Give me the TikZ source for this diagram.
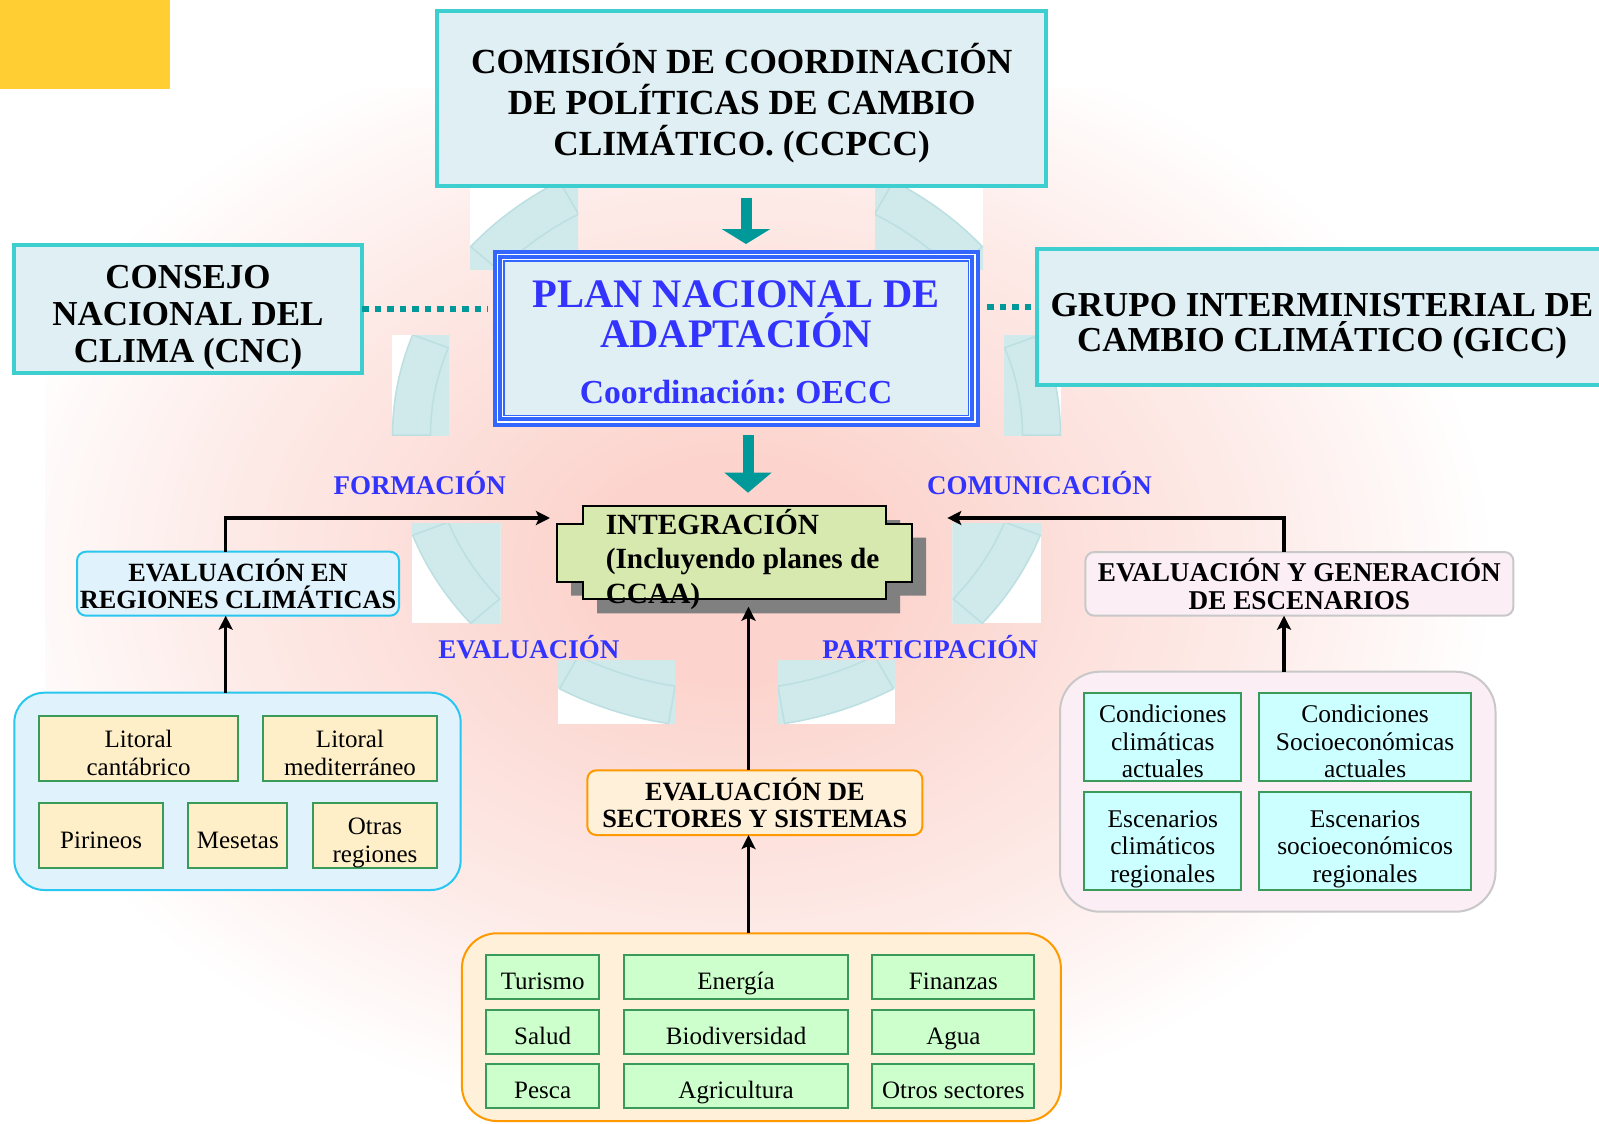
\documentclass[tikz,border=0pt]{standalone}
\usepackage{fontspec}
\setmainfont{Liberation Serif}
\usetikzlibrary{arrows.meta,calc}
\frenchspacing
\definecolor{cgold}{HTML}{FFCE33}
\definecolor{tealb}{HTML}{3DCFD0}
\definecolor{boxfill}{HTML}{E0EFF4}
\definecolor{tealar}{HTML}{009999}
\definecolor{pnablue}{HTML}{3366FF}
\definecolor{pnatext}{HTML}{3333FF}
\definecolor{intfill}{HTML}{D7E9AE}
\definecolor{shadowc}{HTML}{808080}
\definecolor{regb}{HTML}{29C7F0}
\definecolor{regf}{HTML}{E0F2FB}
\definecolor{cream}{HTML}{FEEFC8}
\definecolor{cellg}{HTML}{3A9A5A}
\definecolor{scenb}{HTML}{C8C8C8}
\definecolor{scenf}{HTML}{FBEEF4}
\definecolor{lcyan}{HTML}{CCFFFF}
\definecolor{orb}{HTML}{FF9900}
\definecolor{orf}{HTML}{FFF0DA}
\definecolor{lgreen}{HTML}{CCFFCC}
\definecolor{ringf}{HTML}{D0E9EB}
\definecolor{ringl}{HTML}{BCDFE2}
\definecolor{pinkc}{HTML}{FCD4CD}
\definecolor{pinkm}{HTML}{FDEBE8}
\pgfdeclareradialshading{bgpink}{\pgfpoint{0bp}{0bp}}{color(0bp)=(pinkc); color(5bp)=(pinkc); color(17bp)=(pinkm); color(25bp)=(white); color(50bp)=(white)}
\newcommand{\tstr}[1]{\rule{0pt}{#1}}
\begin{document}
\begin{tikzpicture}[x=1pt,y=-1pt,
  every node/.style={inner sep=0pt,outer sep=0pt},
  hbox/.style={draw=tealb,line width=4pt,fill=boxfill,align=center,text=black},
  pnabox/.style={fill=pnablue,text=pnatext,align=center,
    font=\bfseries\fontsize{40.5}{40}\selectfont,
    path picture={
      \fill[boxfill] ([shift={(12pt,-12pt)}]path picture bounding box.north west) rectangle ([shift={(-12pt,12pt)}]path picture bounding box.south east);
      \draw[white,line width=1.3pt] ([shift={(4.6pt,-4.6pt)}]path picture bounding box.north west) rectangle ([shift={(-4.6pt,4.6pt)}]path picture bounding box.south east);
      \draw[white,line width=1pt] ([shift={(9.8pt,-9.8pt)}]path picture bounding box.north west) rectangle ([shift={(-9.8pt,9.8pt)}]path picture bounding box.south east);
    }},
  rbox/.style={rounded corners=9pt,line width=2pt,align=center,font=\bfseries\fontsize{26.3}{27.6}\selectfont},
  cont/.style={line width=2pt},
  cell/.style={draw=cellg,line width=2pt,align=center,font=\fontsize{25}{28}\selectfont},
  scell/.style={cell,fill=lgreen,text height=27pt,text depth=2pt},
  ccell/.style={cell,fill=lcyan,font=\fontsize{25.5}{27.5}\selectfont},
  lbl/.style={text=pnatext,font=\bfseries\fontsize{27}{27}\selectfont,anchor=base west},
  conn/.style={line width=3.5pt,-{Stealth[length=14pt,width=14pt,inset=3pt]}},
  dotconn/.style={tealar,line width=6.5pt,dash pattern=on 6.5pt off 6pt},
  tealarrow/.style={tealar,line width=11pt},
  ringline/.style={ringl,line width=1.5pt}
]
\clip (0,0) rectangle (1599,1124);
% background
\begin{scope}
  \clip (45,89) rectangle (1599,1124);
  \shade[shading=bgpink] (-25,10) rectangle (1495,1130);
\end{scope}
\fill[cgold] (0,0) rectangle (170,89);
% decorative ring pieces
\foreach \xa/\ya/\xb/\yb/\ta/\tb in {470/188/578/269/220/240, 875/188/983/269/300/320, 391.7/335/449/435.7/180/200, 1004/335/1061.3/435.7/340/360, 411.7/523/500.7/623/140/160, 952.3/523/1041.3/623/20/40, 558/660/675/724/100/120, 778/660/895/724/60/80}{
  \begin{scope}
    \clip (\xa,\ya) rectangle (\xb,\yb);
    \fill[white] (\xa,\ya) rectangle (\xb,\yb);
    \fill[ringf] plot[domain=0:360,samples=90] ({726.5+334*cos(\x)},{435+293*sin(\x)}) -- cycle;
    \draw[ringline] plot[domain=\ta:\tb,samples=16] ({726.5+334*cos(\x)},{435+293*sin(\x)}) -- plot[domain=\tb:\ta,samples=16] ({726.5+296*cos(\x)},{435+255*sin(\x)}) -- cycle;
  \end{scope}
}
% top boxes
\node[hbox,font=\bfseries\fontsize{35.3}{41}\selectfont,minimum width=609.4pt,minimum height=174.7pt] (ccpcc) at (741.7,98.65) {\tstr{39pt}COMISIÓN DE COORDINACIÓN\\DE POLÍTICAS DE CAMBIO\\CLIMÁTICO. (CCPCC)};
\node[hbox,font=\bfseries\fontsize{35}{37}\selectfont,minimum width=348pt,minimum height=128pt] (cnc) at (188,309) {\tstr{40pt}CONSEJO\\NACIONAL DEL\\CLIMA (CNC)};
\node[hbox,font=\bfseries\fontsize{35}{35.7}\selectfont,minimum width=570pt,minimum height=135.7pt] (gicc) at (1322,316.85) {\tstr{42pt}GRUPO INTERMINISTERIAL DE\\CAMBIO CLIMÁTICO (GICC)};
\node[pnabox,minimum width=486.8pt,minimum height=176.7pt] (pna) at (736.1,338.35) {\tstr{35pt}PLAN NACIONAL DE\\ADAPTACIÓN\\[16pt]{\fontsize{33.6}{40}\selectfont Coordinación: OECC}};
% dotted links
\coordinate (giccdot) at ($(gicc.west)+(0,-10)$);
\draw[dotconn,shorten >=4.7pt] (cnc.east) -- (cnc.east -| pna.west);
\draw[dotconn,shorten <=7.5pt] (pna.east |- giccdot) -- (giccdot);
% integration plaque
\node[minimum width=354.9pt,minimum height=93.3pt] (integ) at (734.15,552.65) {};
\fill[shadowc,shift={($(integ.north west)+(14.5,14)$)}] (25.9,0) -- (329,0) -- (329,17.7) -- (354.9,17.7) -- (354.9,75.6) -- (329,75.6) -- (329,93.3) -- (25.9,93.3) -- (25.9,75.6) -- (0,75.6) -- (0,17.7) -- (25.9,17.7) -- cycle;
\draw[fill=intfill,line width=2pt,shift={(integ.north west)}] (25.9,0) -- (329,0) -- (329,17.7) -- (354.9,17.7) -- (354.9,75.6) -- (329,75.6) -- (329,93.3) -- (25.9,93.3) -- (25.9,75.6) -- (0,75.6) -- (0,17.7) -- (25.9,17.7) -- cycle;
\node[font=\bfseries\fontsize{29.3}{34.5}\selectfont,align=left,anchor=west] (integtxt) at (605.8,559.5) {INTEGRACIÓN\\(Incluyendo planes de\\CCAA)};
% labels
\node[lbl] (formacion) at (333.5,494.3) {FORMACIÓN};
\node[lbl] (comunicacion) at (927,494) {COMUNICACIÓN};
\node[lbl] (evaluacion) at (438.4,658.3) {EVALUACIÓN};
\node[lbl] (participacion) at (822.3,658) {PARTICIPACIÓN};
% left branch
\node[rbox,draw=regb,fill=regf,minimum width=322pt,minimum height=64pt] (regbox) at (238,583.7) {EVALUACIÓN EN\\REGIONES CLIMÁTICAS};
\node[cont,draw=regb,fill=regf,rounded corners=30pt,minimum width=446.4pt,minimum height=197.3pt] (regcont) at (237.5,791.35) {};
\node[cell,fill=cream,minimum width=199.3pt,minimum height=64.7pt] (lcant) at (138.65,748.35) {\tstr{27pt}Litoral\\cantábrico};
\node[cell,fill=cream,minimum width=174.6pt,minimum height=64.7pt] (lmed) at (350,748.35) {\tstr{27pt}Litoral\\mediterráneo};
\node[cell,fill=cream,minimum width=124.3pt,minimum height=65.6pt,text height=27pt,text depth=1.4pt] (piri) at (101.15,835.5) {Pirineos};
\node[cell,fill=cream,minimum width=99pt,minimum height=65.6pt,text height=27pt,text depth=1.4pt] (mese) at (237.8,835.5) {Mesetas};
\node[cell,fill=cream,minimum width=124.6pt,minimum height=65.6pt] (otras) at (375,835.5) {\tstr{31pt}Otras\\regiones};
% right branch
\node[rbox,font=\bfseries\fontsize{27.2}{27.6}\selectfont,draw=scenb,fill=scenf,minimum width=428pt,minimum height=63.7pt] (scenbox) at (1299.4,583.85) {EVALUACIÓN Y GENERACIÓN\\DE ESCENARIOS};
\node[cont,draw=scenb,fill=scenf,rounded corners=40pt,minimum width=435.5pt,minimum height=240pt] (scencont) at (1277.75,791.7) {};
\node[ccell,minimum width=156.8pt,minimum height=88.3pt] (ccact) at (1162.8,736.85) {\tstr{27pt}Condiciones\\climáticas\\actuales};
\node[ccell,minimum width=211.6pt,minimum height=88.3pt] (csact) at (1365.1,736.85) {\tstr{27pt}Condiciones\\Socioeconómicas\\actuales};
\node[ccell,minimum width=156.8pt,minimum height=98.3pt] (escl) at (1162.8,840.85) {\tstr{33pt}Escenarios\\climáticos\\regionales};
\node[ccell,minimum width=211.6pt,minimum height=98.3pt] (esso) at (1365.1,840.85) {\tstr{33pt}Escenarios\\socioeconómicos\\regionales};
% bottom branch
\node[rbox,draw=orb,fill=orf,minimum width=335pt,minimum height=64.7pt] (sectbox) at (754.85,802.65) {EVALUACIÓN DE\\SECTORES Y SISTEMAS};
\node[cont,draw=orb,fill=orf,rounded corners=35pt,minimum width=599pt,minimum height=187.7pt] (sectcont) at (761.4,1027.15) {};
\node[scell,minimum width=112.6pt,minimum height=44.3pt] (turismo) at (542.7,977.15) {Turismo};
\node[scell,minimum width=224.2pt,minimum height=44.3pt] (energia) at (736.1,977.15) {Energía};
\node[scell,minimum width=162.1pt,minimum height=44.3pt] (finanzas) at (953.35,977.15) {Finanzas};
\node[scell,minimum width=112.6pt,minimum height=44.3pt] (salud) at (542.7,1032.15) {Salud};
\node[scell,minimum width=224.2pt,minimum height=44.3pt] (biodiv) at (736.1,1032.15) {Biodiversidad};
\node[scell,minimum width=162.1pt,minimum height=44.3pt] (agua) at (953.35,1032.15) {Agua};
\node[scell,minimum width=112.6pt,minimum height=44pt] (pesca) at (542.7,1086.3) {Pesca};
\node[scell,minimum width=224.2pt,minimum height=44pt] (agric) at (736.1,1086.3) {Agricultura};
\node[scell,minimum width=162.1pt,minimum height=44pt] (otrossect) at (953.35,1086.3) {Otros sectores};
% black connectors
\draw[conn] ($(regbox.north)+(-12.3,0)$) |- ($(integ.west)+(-6.7,-34.65)$);
\draw[conn] ($(scenbox.north)+(-15.4,0)$) |- ($(integ.east)+(35.7,-34.65)$);
\draw[conn] ($(regcont.north)+(-11.8,0)$) -- ($(regbox.south)+(-12.3,0)$);
\draw[conn] ($(scencont.north)+(6.25,0)$) -- ($(scenbox.south)+(-15.4,0)$);
\draw[conn] ($(sectcont.north)+(-12.9,0)$) -- ($(sectbox.south)+(-6.35,0)$);
\draw[conn,shorten >=7.4pt] ($(sectbox.north)+(-6.35,0)$) -- ($(integ.south)+(14.35,0)$);
% teal block arrows
\coordinate (a1s) at ($(ccpcc.south)+(4.3,12)$);
\coordinate (a2s) at ($(pna.south)+(11.9,8.3)$);
\draw[tealarrow,-{Triangle[width=48pt,length=15pt]},shorten >=6pt] (a1s) -- (a1s |- pna.north);
\draw[tealarrow,-{Triangle[width=46pt,length=20pt]},shorten >=13.3pt] (a2s) -- (a2s |- integ.north);
\end{tikzpicture}
\end{document}
